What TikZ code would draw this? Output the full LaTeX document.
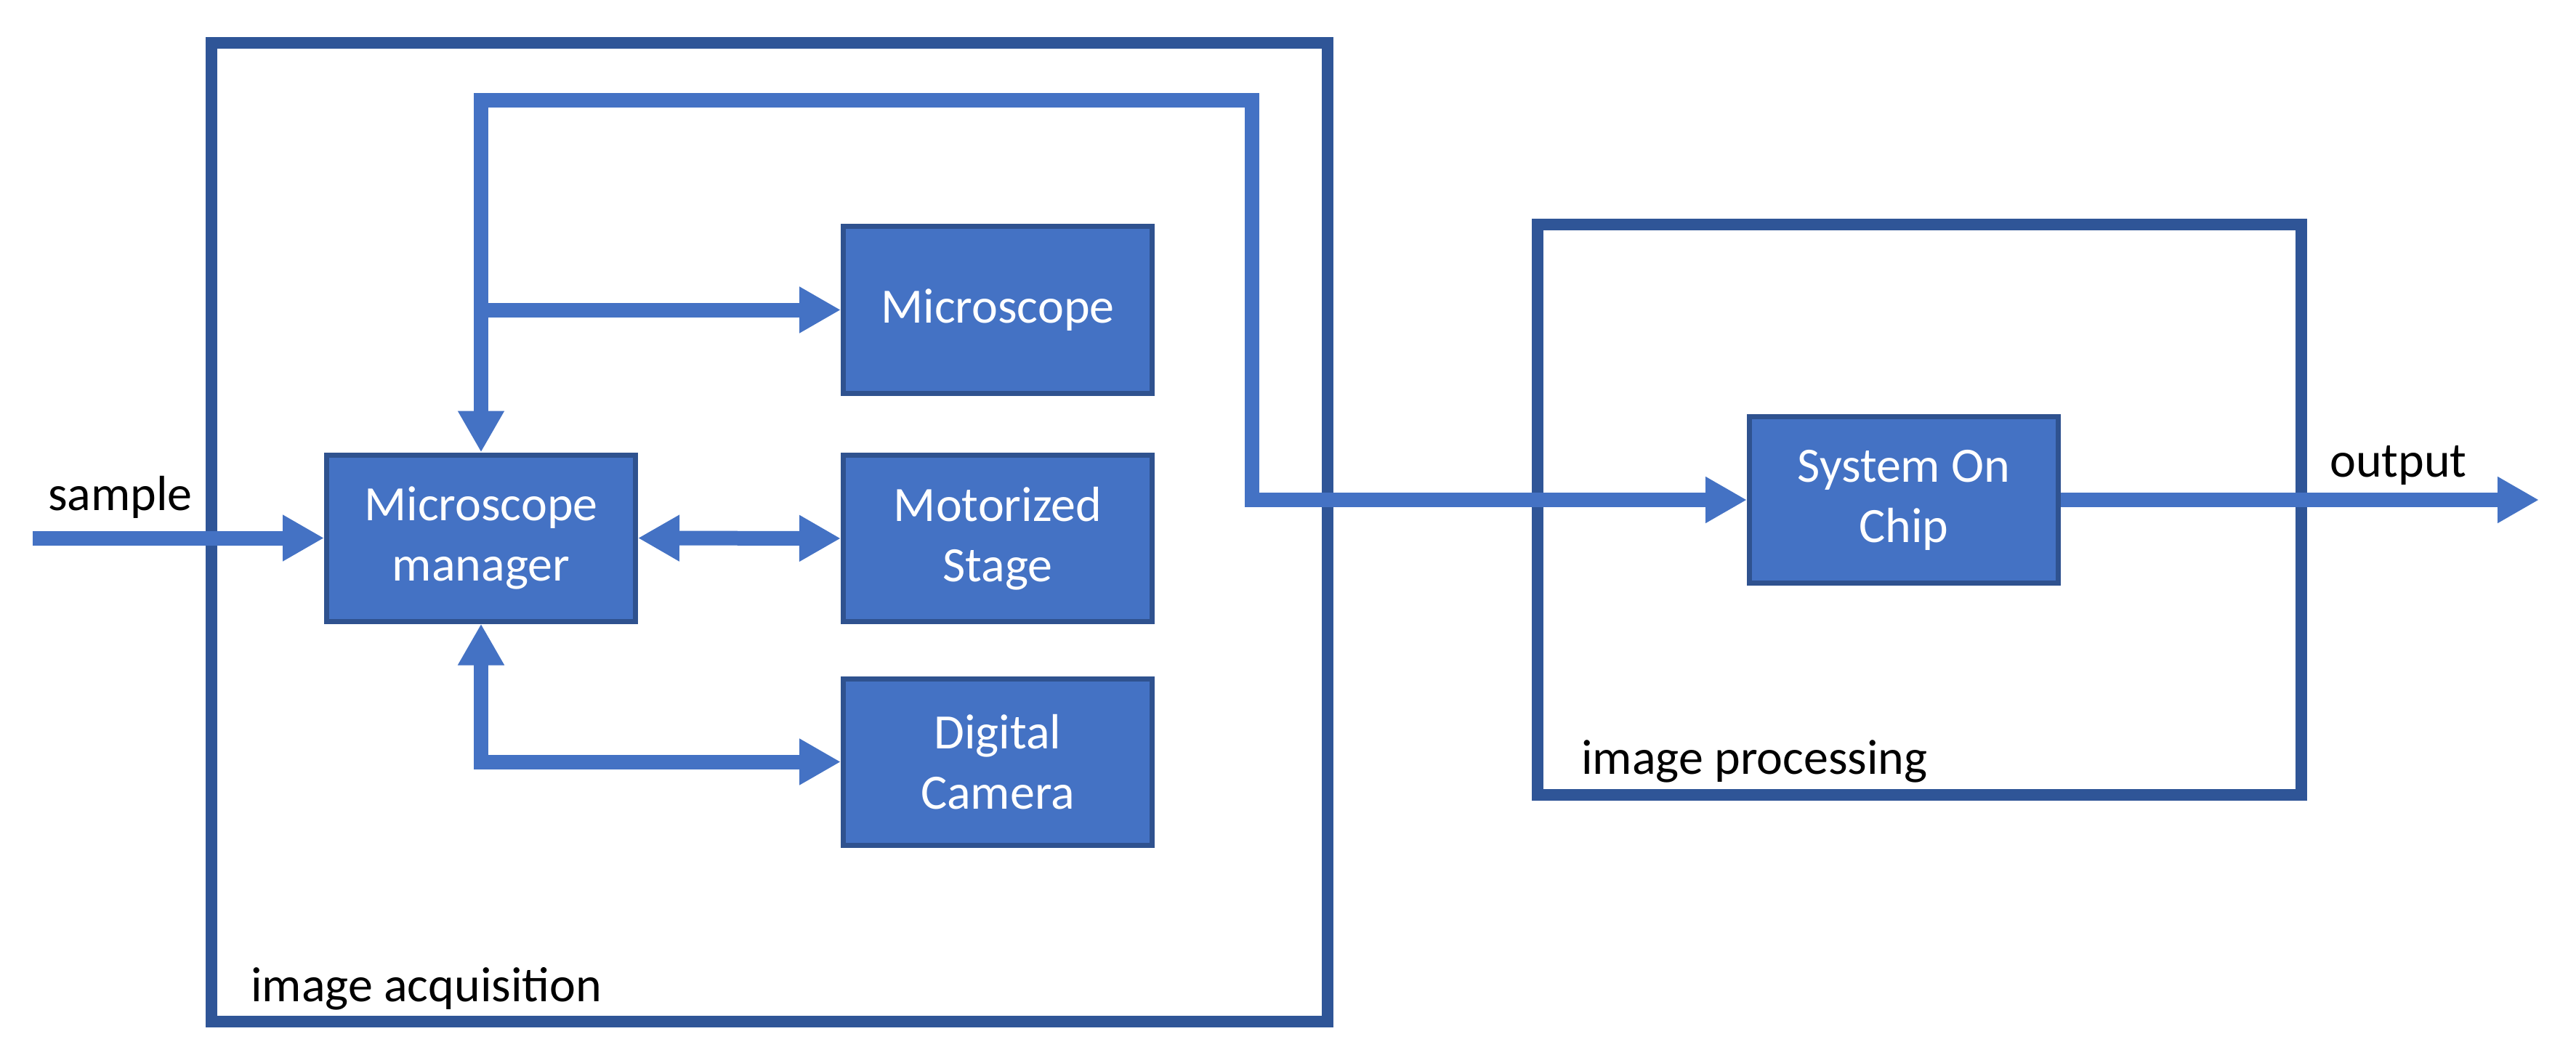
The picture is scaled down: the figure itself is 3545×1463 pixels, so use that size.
\documentclass[tikz,border=0pt]{standalone}
\usepackage{fontspec}
\setmainfont{Carlito}
\usetikzlibrary{arrows.meta}
\definecolor{boxfill}{HTML}{4472C4}
\definecolor{boxline}{HTML}{2F528F}
\definecolor{frameline}{HTML}{2F5597}
\definecolor{connline}{HTML}{4472C4}
\tikzset{
  unit/.style={draw=boxline, line width=7pt, fill=boxfill, text=white,
    minimum width=425pt, minimum height=229pt, inner sep=0pt, align=center,
    font=\fontsize{68}{83}\selectfont},
  frame/.style={draw=frameline, line width=16pt, line join=miter},
  conn/.style={draw=connline, line width=20pt, line join=miter},
  tip/.tip={Triangle[length=57pt, width=60pt]},
  lbl/.style={inner sep=0pt, anchor=base west, text=black,
    font=\fontsize{68}{83}\selectfont}
}
\begin{document}
\begin{tikzpicture}[x=1pt, y=-1pt]
\useasboundingbox (0,0) rectangle (3545,1463);
\fill[white] (0,0) rectangle (3545,1463);

% frames
\draw[frame] (291,59) rectangle (1827,1406);
\draw[frame] (2116,309) rectangle (3167,1094);

% units
\node[unit] (mgr) at (662,740.5) {Microscope\\manager};
\node[unit] (mic) at (1373,426.5) {Microscope};
\node[unit] (stg) at (1373,741) {Motorized\\Stage};
\node[unit] (cam) at (1373,1048.5) {Digital\\Camera};
\node[unit] (soc) at (2620,688) {System On\\Chip};

% helper coordinates
\coordinate (in) at (45,740.5);
\coordinate (fbR) at (1723,138);
\coordinate (br) at (662,426.5);
\coordinate (out) at (3494,688);

% connectors
\draw[conn, -{tip}] (in) -- (mgr.west);
\draw[conn, {tip}-{tip}] (mgr.north) |- (fbR) |- (soc.west);
\draw[conn, -{tip}] (br) -- (mic.west);
\draw[conn, {tip}-{tip}] (mgr.east) -- (stg.west);
\draw[conn, {tip}-{tip}] (mgr.south) |- (cam.west);
\draw[conn, -{tip}] (soc.east) -- (out);

% labels
\node[lbl] (lsample) at (66,702) {sample};
\node[lbl] (loutput) at (3206,656) {output};
\node[lbl] (lacq) at (345,1378) {image acquisition};
\node[lbl] (lproc) at (2176,1065) {image processing};
\end{tikzpicture}
\end{document}
